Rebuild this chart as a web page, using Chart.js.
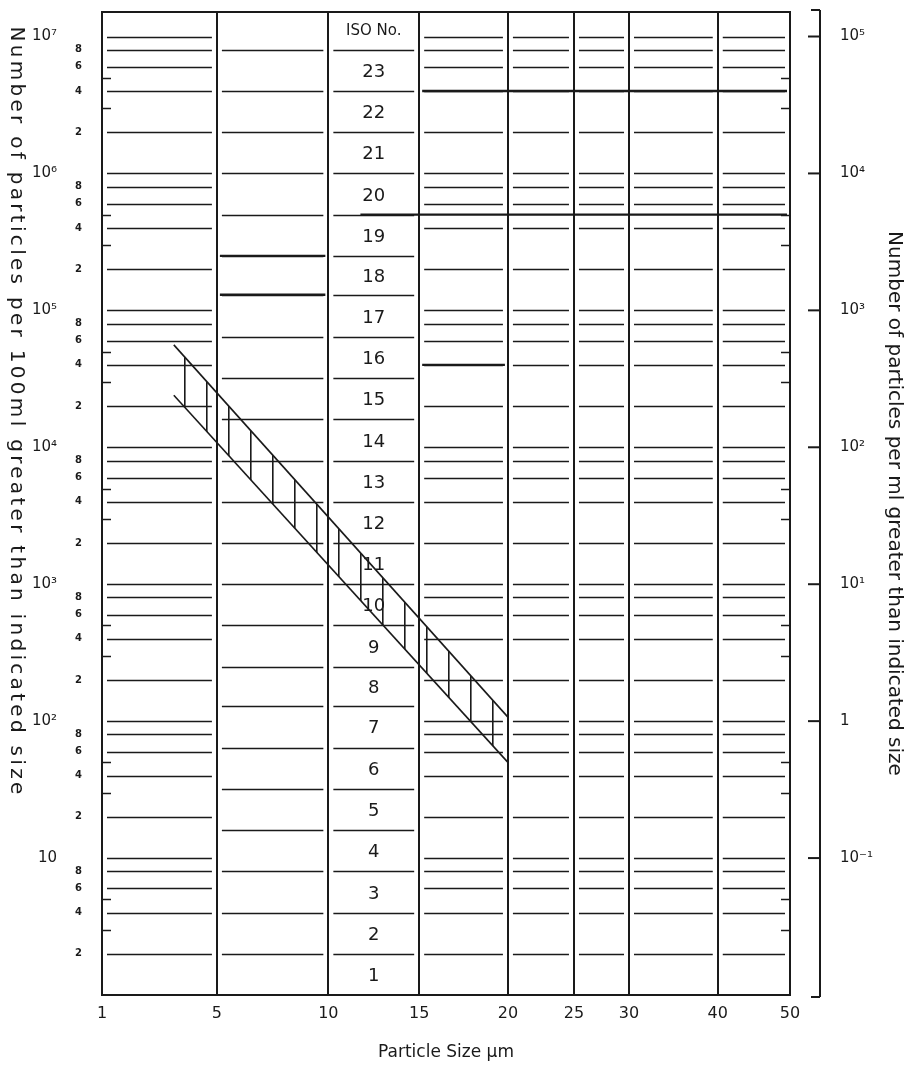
<!DOCTYPE html>
<html>
<head>
<meta charset="utf-8">
<title>ISO 4406 cleanliness chart</title>
<script src="https://cdn.jsdelivr.net/npm/chart.js@4.4.1/dist/chart.umd.min.js"></script>
<style>
  html, body { margin: 0; padding: 0; background: #fff; }
  #wrap { width: 912px; height: 1072px; position: relative; }
</style>
</head>
<body>
<div id="wrap"><canvas id="grafica"></canvas></div>
<script>
// particle size axis, µm
var sizeTicks = [1, 5, 10, 15, 20, 25, 30, 40, 50];

// ISO 4406 code numbers and the range limits between them (particles per ml)
var isoCodes = [1, 2, 3, 4, 5, 6, 7, 8, 9, 10, 11, 12, 13, 14, 15, 16, 17, 18, 19, 20, 21, 22, 23];
var isoLimits = [0.01, 0.02, 0.04, 0.08, 0.16, 0.32, 0.64, 1.3, 2.5, 5, 10, 20, 40, 80, 160, 320, 640,
                 1300, 2500, 5000, 10000, 20000, 40000, 80000];

// left scale, particles per 100 ml
var leftDecades = [10, 100, 1000, 10000, 100000, 1000000, 10000000];
var leftDecadeLabels = ['10', '10²', '10³', '10⁴', '10⁵', '10⁶', '10⁷'];
var leftMinor = [2, 4, 6, 8, 20, 40, 60, 80, 200, 400, 600, 800, 2000, 4000, 6000, 8000,
                 20000, 40000, 60000, 80000, 200000, 400000, 600000, 800000,
                 2000000, 4000000, 6000000, 8000000];
var leftShort = [3, 5, 30, 50, 300, 500, 3000, 5000, 30000, 50000, 300000, 500000, 3000000, 5000000];

// right scale, particles per ml
var rightDecades = [0.1, 1, 10, 100, 1000, 10000, 100000];
var rightLabels = ['10⁻¹', '1', '10¹', '10²', '10³', '10⁴', '10⁵'];

// hatched band (per ml)
var bandSize = [3.5, 20];
var bandHigh = [560, 1.07];
var bandLow = [240, 0.5];

// ---- layout / style only ----
var sizeLinePos = [0, 0.167, 0.329, 0.461, 0.590, 0.686, 0.766, 0.895, 1];
var columnKind = ['dec', 'iso', 'iso', 'dec', 'dec', 'dec', 'dec', 'dec'];
var heavyLines = [
  { ml: 40000, from: 15, to: 50 },
  { ml: 5000, from: 11.6, to: 50 },
  { ml: 2500, from: 5, to: 10 },
  { ml: 1300, from: 5, to: 10 },
  { ml: 400, from: 15, to: 20 }
];
var ink = '#1a1a1a';
var fuente = 'DejaVu Sans';

Chart.defaults.font.family = fuente;
Chart.defaults.color = ink;

function fraccionTamano(v) {
  if (v <= sizeTicks[0]) return sizeLinePos[0];
  for (var i = 1; i < sizeTicks.length; i++) {
    if (v <= sizeTicks[i]) {
      var t = (v - sizeTicks[i - 1]) / (sizeTicks[i] - sizeTicks[i - 1]);
      return sizeLinePos[i - 1] + t * (sizeLinePos[i] - sizeLinePos[i - 1]);
    }
  }
  return sizeLinePos[sizeLinePos.length - 1];
}

// size axis of the chart: piecewise between the printed size lines
class EscalaTamano extends Chart.Scale {
  determineDataLimits() {
    this.min = sizeTicks[0];
    this.max = sizeTicks[sizeTicks.length - 1];
  }
  buildTicks() {
    return sizeTicks.map(function (v) { return { value: v }; });
  }
  getLabelForValue(v) { return String(v); }
  getPixelForValue(v) { return this.getPixelForDecimal(fraccionTamano(v)); }
  getPixelForTick(i) { return this.getPixelForValue(this.ticks[i].value); }
  getValueForPixel(p) {
    var d = this.getDecimalForPixel(p);
    for (var i = 1; i < sizeLinePos.length; i++) {
      if (d <= sizeLinePos[i]) {
        var t = (d - sizeLinePos[i - 1]) / (sizeLinePos[i] - sizeLinePos[i - 1]);
        return sizeTicks[i - 1] + t * (sizeTicks[i] - sizeTicks[i - 1]);
      }
    }
    return sizeTicks[sizeTicks.length - 1];
  }
}
EscalaTamano.id = 'tamano';
EscalaTamano.defaults = {};
Chart.register(EscalaTamano);

function puntos(xs, ys) {
  return xs.map(function (x, i) { return { x: x, y: ys[i] }; });
}

function primerDigito(v) {
  var e = Math.floor(Math.log10(v) + 1e-9);
  return String(Math.round(v / Math.pow(10, e)));
}

function segmento(ctx, x0, y0, x1, y1) {
  ctx.beginPath();
  ctx.moveTo(x0, y0);
  ctx.lineTo(x1, y1);
  ctx.stroke();
}

// fixed box sizes, no extra padding from the tick labels
function tamanoFijo(w, h) {
  return function (s) {
    if (w) s.width = w;
    if (h) s.height = h;
    s.paddingTop = 0;
    s.paddingBottom = 0;
    s.paddingLeft = 0;
    s.paddingRight = 0;
  };
}

var cuadricula = {
  id: 'cuadricula',
  beforeDatasetsDraw: function (chart) {
    var ctx = chart.ctx, a = chart.chartArea;
    var sx = chart.scales.x, yl = chart.scales.y, yr = chart.scales.y2;
    var decLines = leftMinor.concat(leftDecades);
    ctx.save();
    ctx.strokeStyle = ink;
    ctx.lineWidth = 1.3;
    // horizontal lines, column by column
    for (var c = 0; c < columnKind.length; c++) {
      var x0 = sx.getPixelForValue(sizeTicks[c]) + 5;
      var x1 = sx.getPixelForValue(sizeTicks[c + 1]) - 5;
      var iso = columnKind[c] === 'iso';
      var vals = iso ? isoLimits.slice(1) : decLines;
      var sc = iso ? yr : yl;
      vals.forEach(function (v) {
        var y = Math.round(sc.getPixelForValue(v)) + 0.5;
        if (y > a.top + 3 && y < a.bottom - 3) segmento(ctx, x0, y, x1, y);
      });
    }
    // darker lines
    ctx.lineWidth = 2.4;
    heavyLines.forEach(function (h) {
      var y = yr.getPixelForValue(h.ml);
      segmento(ctx, sx.getPixelForValue(h.from) + 3, y, sx.getPixelForValue(h.to) - 3, y);
    });
    // short ticks inside the frame
    ctx.lineWidth = 1.5;
    leftShort.forEach(function (v) {
      var y = Math.round(yl.getPixelForValue(v)) + 0.5;
      segmento(ctx, a.left, y, a.left + 9, y);
      segmento(ctx, a.right - 9, y, a.right, y);
    });
    // frame
    ctx.lineWidth = 2;
    ctx.strokeRect(a.left, a.top, a.right - a.left, a.bottom - a.top);
    // bracket of the per-ml scale
    var bx = a.right + 30;
    segmento(ctx, bx, a.top - 2, bx, a.bottom + 2);
    segmento(ctx, bx - 9, a.top - 2, bx, a.top - 2);
    segmento(ctx, bx - 9, a.bottom + 2, bx, a.bottom + 2);
    rightDecades.forEach(function (v) {
      var y = yr.getPixelForValue(v);
      segmento(ctx, bx - 12, y, bx, y);
    });
    ctx.restore();
  },
  afterDatasetsDraw: function (chart) {
    var ctx = chart.ctx, a = chart.chartArea;
    var sx = chart.scales.x, yr = chart.scales.y2;
    var xc = (sx.getPixelForValue(10) + sx.getPixelForValue(15)) / 2;
    ctx.save();
    ctx.fillStyle = ink;
    ctx.textAlign = 'center';
    ctx.textBaseline = 'middle';
    ctx.font = '18px "' + fuente + '"';
    isoCodes.forEach(function (k, i) {
      var y = (yr.getPixelForValue(isoLimits[i]) + yr.getPixelForValue(isoLimits[i + 1])) / 2;
      ctx.fillText(String(k), xc, y + 2);
    });
    ctx.font = '15px "' + fuente + '"';
    ctx.fillText('ISO No.', xc, (a.top + yr.getPixelForValue(isoLimits[isoLimits.length - 1])) / 2);
    // left title reads top to bottom
    ctx.translate(16, 412);
    ctx.rotate(Math.PI / 2);
    ctx.font = '20px "' + fuente + '"';
    ctx.letterSpacing = '3.3px';
    ctx.fillText('Number of particles per 100ml greater than indicated size', 0, 0);
    ctx.restore();
  }
};

var ctx = document.getElementById('grafica').getContext('2d');

function rayado() {
  var c = document.createElement('canvas');
  c.width = 22;
  c.height = 4;
  var g = c.getContext('2d');
  g.fillStyle = ink;
  g.fillRect(8, 0, 1.6, 4);
  return ctx.createPattern(c, 'repeat');
}

var chart = new Chart(ctx, {
  type: 'line',
  data: {
    datasets: [{
      label: 'upper',
      data: puntos(bandSize, bandHigh),
      xAxisID: 'x',
      yAxisID: 'y2',
      borderColor: ink,
      borderWidth: 1.6,
      pointRadius: 0,
      tension: 0,
      fill: '+1',
      backgroundColor: rayado()
    }, {
      label: 'lower',
      data: puntos(bandSize, bandLow),
      xAxisID: 'x',
      yAxisID: 'y2',
      borderColor: ink,
      borderWidth: 1.6,
      pointRadius: 0,
      tension: 0,
      fill: false
    }]
  },
  options: {
    responsive: true,
    maintainAspectRatio: false,
    animation: false,
    events: [],
    layout: { padding: { top: 12, left: 0, right: 0, bottom: 0 } },
    plugins: { legend: { display: false }, tooltip: { enabled: false } },
    scales: {
      x: {
        type: 'tamano',
        position: 'bottom',
        grid: { color: ink, lineWidth: 2, drawTicks: false },
        border: { display: false },
        ticks: { padding: 9, autoSkip: false, maxRotation: 0, font: { size: 16 } },
        title: { display: true, text: 'Particle Size µm', font: { size: 17 }, padding: { top: 0, bottom: 9 } },
        afterFit: tamanoFijo(0, 77)
      },
      y: {
        type: 'logarithmic',
        position: 'left',
        weight: 0,
        min: 1,
        max: 1.51e7,
        bounds: 'data',
        afterBuildTicks: function (s) { s.ticks = leftMinor.map(function (v) { return { value: v }; }); },
        ticks: { autoSkip: false, padding: 12, font: { size: 10, weight: 'bold' },
                 callback: function (v) { return primerDigito(v); } },
        grid: { display: false },
        border: { display: false },
        afterFit: tamanoFijo(36, 0)
      },
      yDec: {
        type: 'logarithmic',
        position: 'left',
        weight: 1,
        min: 1,
        max: 1.51e7,
        bounds: 'data',
        afterBuildTicks: function (s) { s.ticks = leftDecades.map(function (v) { return { value: v }; }); },
        ticks: { autoSkip: false, padding: 1, font: { size: 15 },
                 callback: function (v, i) { return leftDecadeLabels[i]; } },
        grid: { display: false },
        border: { display: false },
        afterFit: tamanoFijo(66, 0)
      },
      y2: {
        type: 'logarithmic',
        position: 'right',
        min: 0.01,
        max: 1.51e5,
        bounds: 'data',
        afterBuildTicks: function (s) { s.ticks = rightDecades.map(function (v) { return { value: v }; }); },
        ticks: { autoSkip: false, padding: 42, font: { size: 15 },
                 callback: function (v, i) { return rightLabels[i]; } },
        grid: { display: false },
        border: { display: false },
        title: { display: true, text: 'Number of particles per ml greater than indicated size',
                 font: { size: 20 }, padding: { top: 6, bottom: 0 } },
        afterFit: tamanoFijo(122, 0)
      }
    }
  },
  plugins: [cuadricula]
});
</script>
</body>
</html>
